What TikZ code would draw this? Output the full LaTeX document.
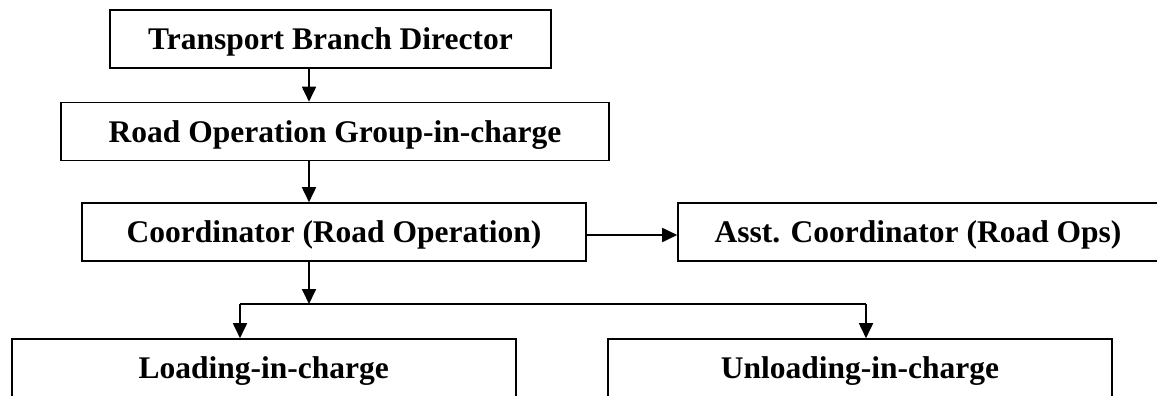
\documentclass[tikz,border=0pt]{standalone}
\usepackage{fontspec}
\setmainfont{Liberation Serif}
\usetikzlibrary{arrows.meta}
\begin{document}
\begin{tikzpicture}[x=1pt,y=-1pt,
  orgbox/.style={draw, line width=1.6pt, inner sep=0pt, anchor=center,
    minimum height=58pt, text height=21.7pt, text depth=0pt,
    font=\fontsize{31.5}{36}\selectfont\bfseries},
  link/.style={line width=1.8pt, -{Triangle[length=15pt,width=14pt]}},
  wire/.style={line width=1.8pt}]
  \clip (0,0) rectangle (1157,396);
  \fill[white] (0,0) rectangle (1157,396);

  % reporting chain
  \node[orgbox, minimum width=441pt] (dir)  at (330.5,39)  {Transport Branch Director};
  \node[orgbox, minimum width=548pt] (grp)  at (335,131.5) {Road Operation Group-in-charge};
  \node[orgbox, minimum width=504pt] (crd)  at (334,232)   {Coordinator (Road Operation)};
  \node[orgbox, minimum width=480pt] (asst) at (918,232)   {Asst. Coordinator (Road Ops)};
  \node[orgbox, minimum width=504pt] (load) at (263.7,368) {Loading-in-charge};
  \node[orgbox, minimum width=504pt] (unld) at (860,368)   {Unloading-in-charge};

  % helper points for the vertical trunk and the split
  \coordinate (col)   at (309,0);
  \coordinate (row)   at (0,235);
  \coordinate (split) at (309,304);
  \coordinate (lj)    at (240,304);
  \coordinate (uj)    at (866,304);

  \draw[link] (dir.south -| col) -- (grp.north -| col);
  \draw[link] (grp.south -| col) -- (crd.north -| col);
  \draw[link] (crd.east |- row) -- (asst.west |- row);
  \draw[link] (crd.south -| col) -- (split);
  \draw[wire] (lj) -- (uj);
  \draw[link] (lj) -- (load.north -| lj);
  \draw[link] (uj) -- (unld.north -| uj);
\end{tikzpicture}
\end{document}
